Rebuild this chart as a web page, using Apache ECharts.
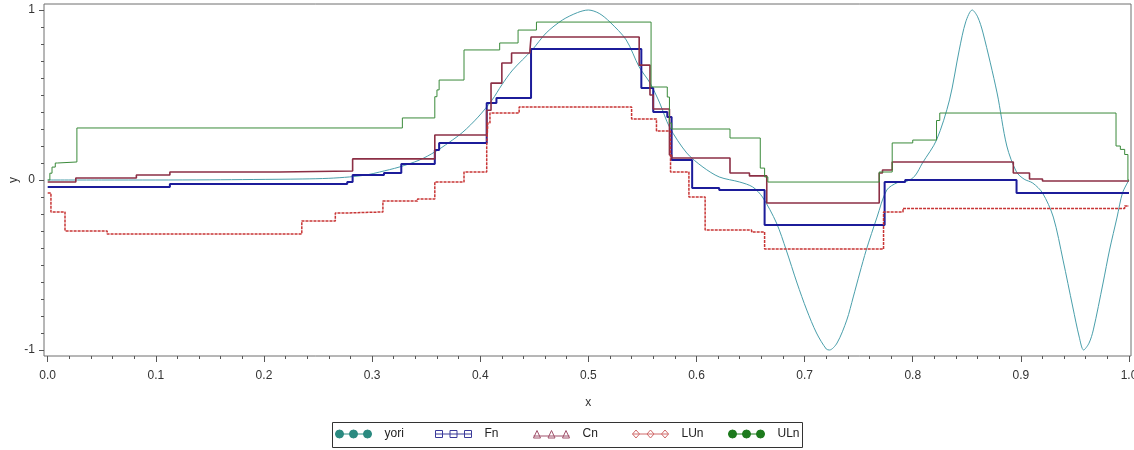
<!DOCTYPE html>
<html>
<head>
<meta charset="utf-8">
<script src="https://cdn.jsdelivr.net/npm/echarts@6/dist/echarts.min.js"></script>
<style>
html,body{margin:0;padding:0;background:#fff;}
#chart{width:1134px;height:450px;}
</style>
</head>
<body>
<div id="chart"></div>
<script>
// ---- data ----
const seriesNames = ['yori', 'Fn', 'Cn', 'LUn', 'ULn'];
const xTickValues = [0, 0.1, 0.2, 0.3, 0.4, 0.5, 0.6, 0.7, 0.8, 0.9, 1.0];
const yTickValues = [-1, 0, 1];

const yoriData = [
  [0,0],[0.05,0],[0.1,0],[0.15,0.001],[0.19,0.003],[0.236,0.006],[0.26,0.01],[0.279,0.018],
  [0.295,0.03],[0.307,0.047],[0.325,0.076],[0.344,0.118],[0.358,0.165],[0.371,0.22],[0.384,0.282],
  [0.398,0.37],[0.411,0.471],[0.42,0.56],[0.43,0.647],[0.448,0.765],[0.461,0.865],[0.476,0.941],
  [0.49,0.985],[0.5,1.0],[0.51,0.98],[0.52,0.929],[0.535,0.824],[0.547,0.665],[0.557,0.571],
  [0.566,0.453],[0.575,0.312],[0.591,0.159],[0.606,0.076],[0.621,0.018],[0.64,-0.012],[0.652,-0.041],
  [0.661,-0.1],[0.674,-0.253],[0.683,-0.412],[0.693,-0.606],[0.702,-0.765],[0.711,-0.9],[0.72,-0.994],
  [0.723,-1.0],[0.73,-0.959],[0.739,-0.824],[0.745,-0.688],[0.751,-0.547],[0.757,-0.412],[0.767,-0.218],
  [0.776,-0.059],[0.786,-0.015],[0.795,-0.006],[0.802,0.024],[0.809,0.1],[0.822,0.235],[0.834,0.471],
  [0.843,0.765],[0.849,0.93],[0.855,1.0],[0.86,0.96],[0.865,0.865],[0.878,0.512],[0.887,0.2],
  [0.896,0.047],[0.903,0.005],[0.911,-0.018],[0.92,-0.076],[0.93,-0.218],[0.939,-0.471],[0.948,-0.747],
  [0.954,-0.924],[0.958,-1.0],[0.963,-0.96],[0.967,-0.882],[0.976,-0.606],[0.982,-0.412],[0.989,-0.218],
  [0.994,-0.076],[1.0,0]
];

const fnSteps = [
  [0,-0.041],[0.113,-0.024],[0.277,-0.012],[0.282,0.029],[0.311,0.041],[0.327,0.094],[0.358,0.176],
  [0.362,0.218],[0.406,0.453],[0.415,0.482],[0.447,0.771],[0.549,0.541],[0.560,0.4],[0.573,0.371],
  [0.577,0.118],[0.596,-0.047],[0.621,-0.059],[0.663,-0.265],[0.774,-0.012],[0.793,0.0],
  [0.896,-0.076],[1.0,-0.076]
];

const cnSteps = [
  [0,-0.012],[0.026,0.012],[0.082,0.029],[0.113,0.047],[0.214,0.053],[0.282,0.124],[0.358,0.265],
  [0.406,0.41],[0.410,0.57],[0.420,0.688],[0.429,0.747],[0.446,0.765],[0.447,0.841],[0.547,0.676],
  [0.557,0.5],[0.560,0.418],[0.575,0.147],[0.577,0.129],[0.631,0.041],[0.649,0.024],[0.665,-0.135],
  [0.769,0.041],[0.772,0.059],[0.781,0.106],[0.893,0.041],[0.908,0.006],[0.920,-0.006],[1.0,-0.006]
];

const lunSteps = [
  [0,-0.076],[0.003,-0.188],[0.016,-0.3],[0.055,-0.318],[0.235,-0.241],[0.266,-0.194],[0.277,-0.188],
  [0.310,-0.124],[0.342,-0.112],[0.358,-0.012],[0.385,0.047],[0.406,0.2],[0.407,0.335],[0.409,0.394],
  [0.436,0.429],[0.540,0.359],[0.563,0.288],[0.576,0.047],[0.593,-0.1],[0.608,-0.294],[0.651,-0.306],
  [0.663,-0.406],[0.773,-0.188],[0.791,-0.167],[0.996,-0.153],[1.0,-0.153]
];

const ulnSteps = [
  [0,0],[0.002,0.04],[0.004,0.076],[0.007,0.1],[0.009,0.106],[0.027,0.306],[0.328,0.365],[0.358,0.49],
  [0.360,0.53],[0.362,0.588],[0.385,0.765],[0.418,0.806],[0.435,0.882],[0.452,0.929],[0.558,0.547],
  [0.573,0.488],[0.575,0.335],[0.577,0.3],[0.631,0.247],[0.659,0.07],[0.663,0.018],[0.666,-0.012],
  [0.769,0.047],[0.781,0.218],[0.800,0.235],[0.822,0.35],[0.825,0.394],[0.988,0.2],[0.992,0.18],
  [0.996,0.15],[0.999,0.0],[1.0,0.0]
];

// ---- chart ----
const FONT = "'Liberation Sans', Arial, sans-serif";
const chart = echarts.init(document.getElementById('chart'), null, {renderer: 'canvas'});

const icons = {
  circles: 'path://M0 4L36 4M8 4A4 4 0 1 1 0 4A4 4 0 1 1 8 4ZM22 4A4 4 0 1 1 14 4A4 4 0 1 1 22 4ZM36 4A4 4 0 1 1 28 4A4 4 0 1 1 36 4ZM44 4L44 4',
  squares: 'path://M0 4L36 4M0 0.5L7 0.5L7 7.5L0 7.5ZM14.5 0.5L21.5 0.5L21.5 7.5L14.5 7.5ZM29 0.5L36 0.5L36 7.5L29 7.5ZM44 0L44 0M44 8L44 8',
  triangles: 'path://M0 6L36 6M0 8L3.5 0.5L7 8ZM14.5 8L18 0.5L21.5 8ZM29 8L32.5 0.5L36 8ZM44 0L44 0',
  diamonds: 'path://M0 4L36 4M3.5 0L7 4L3.5 8L0 4ZM18 0L21.5 4L18 8L14.5 4ZM32.5 0L36 4L32.5 8L29 4ZM44 4L44 4'
};

const legendColors = {yori: '#2b8a80', Fn: '#3a3a9a', Cn: '#a0506a', LUn: '#d06a6a', ULn: '#1d7a1d'};
const legendIcon = {yori: icons.circles, Fn: icons.squares, Cn: icons.triangles, LUn: icons.diamonds, ULn: icons.circles};
const legendFilled = {yori: true, Fn: false, Cn: false, LUn: false, ULn: true};
const legendLeft = [335, 435, 533, 632, 728];

function stepSeries(name, data, color, width, type) {
  return {
    type: 'line', name: name, data: data, step: 'end',
    xAxisIndex: 0, yAxisIndex: 0,
    symbol: 'none', showSymbol: false, clip: false,
    lineStyle: {color: color, width: width, type: type || 'solid'},
    itemStyle: {color: color},
    emphasis: {disabled: true},
    animation: false
  };
}

const legends = seriesNames.map((n, i) => ({
  left: legendLeft[i], top: 428, orient: 'horizontal',
  itemWidth: 44, itemHeight: 8, itemGap: 0, padding: 0,
  selectedMode: false,
  data: [{
    name: n,
    icon: legendIcon[n],
    itemStyle: {
      color: legendFilled[n] ? legendColors[n] : 'rgba(0,0,0,0)',
      borderColor: legendColors[n], borderWidth: 1
    }
  }],
  textStyle: {fontFamily: FONT, fontSize: 12, color: '#222'}
}));

const option = {
  animation: false,
  backgroundColor: '#ffffff',
  grid: [
    {left: 47.7, right: 5, top: 10, bottom: 100, containLabel: false, outerBoundsMode: 'none'},
    {left: 44, right: 3, top: 4, bottom: 94, show: true, borderColor: '#6e6e6e', borderWidth: 1,
     backgroundColor: 'transparent', outerBoundsMode: 'none'}
  ],
  xAxis: [
    {
      gridIndex: 0, type: 'value', min: 0, max: 1, interval: 0.1, offset: 6,
      axisLine: {show: false, onZero: false},
      axisTick: {show: true, length: 6, lineStyle: {color: '#555'}},
      minorTick: {show: true, splitNumber: 5, length: 3, lineStyle: {color: '#555'}},
      splitLine: {show: false}, minorSplitLine: {show: false},
      axisLabel: {fontFamily: FONT, fontSize: 12, color: '#333', margin: 14,
        formatter: v => v.toFixed(1)},
      name: 'x', nameLocation: 'middle', nameGap: 41,
      nameTextStyle: {fontFamily: FONT, fontSize: 12, color: '#333'}
    },
    {gridIndex: 1, type: 'value', min: 0, max: 1, show: false}
  ],
  yAxis: [
    {
      gridIndex: 0, type: 'value', min: -1, max: 1, interval: 1, offset: 3.7,
      axisLine: {show: false, onZero: false},
      axisTick: {show: true, length: 5, lineStyle: {color: '#555'}},
      minorTick: {show: true, splitNumber: 10, length: 3, lineStyle: {color: '#555'}},
      splitLine: {show: false}, minorSplitLine: {show: false},
      axisLabel: {fontFamily: FONT, fontSize: 12, color: '#333', margin: 9,
        formatter: v => String(v)},
      name: 'y', nameLocation: 'middle', nameRotate: 90, nameGap: 24, nameMoveOverlap: false,
      nameTextStyle: {fontFamily: FONT, fontSize: 12, color: '#333'}
    },
    {gridIndex: 1, type: 'value', min: -1, max: 1, show: false}
  ],
  legend: legends,
  graphic: [{
    type: 'rect', silent: true,
    shape: {x: 332.5, y: 422.5, width: 470, height: 25},
    style: {fill: 'none', stroke: '#333', lineWidth: 1}
  }],
  series: [
    {
      type: 'line', name: 'yori', data: yoriData, xAxisIndex: 0, yAxisIndex: 0,
      symbol: 'none', showSymbol: false, smooth: 0.3, clip: false,
      lineStyle: {color: '#4a9fab', width: 1}, itemStyle: {color: '#4a9fab'},
      emphasis: {disabled: true}, animation: false
    },
    stepSeries('Fn', fnSteps, '#1c1c9a', 2),
    stepSeries('Cn', cnSteps, '#8c2f45', 1.6),
    stepSeries('LUn', lunSteps, '#c83535', 1.5, [3, 1]),
    stepSeries('ULn', ulnSteps, '#3a8a3a', 1)
  ]
};
chart.setOption(option);
</script>
</body>
</html>
